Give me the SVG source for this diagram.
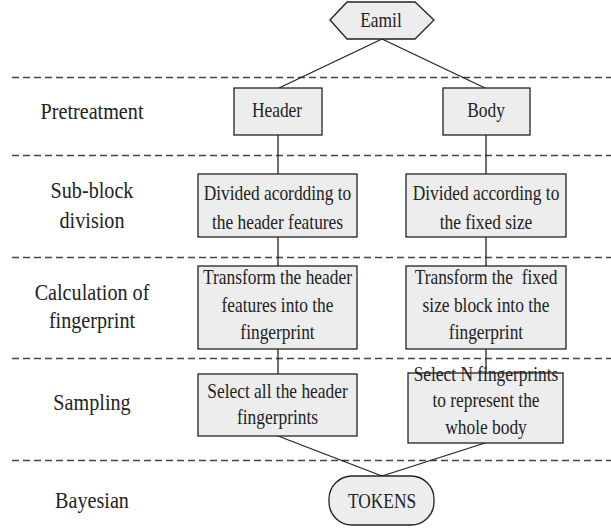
<svg xmlns="http://www.w3.org/2000/svg" width="611" height="529" viewBox="0 0 611 529">
<style>
text{font-family:'Liberation Serif','DejaVu Serif',serif;fill:#222;text-anchor:middle}
.lbl{font-size:24px}
.t{font-size:22px}
.box{fill:#ededed;stroke:#222;stroke-width:1.3}
.dash{stroke:#444;stroke-width:1.5;stroke-dasharray:7 4;fill:none}
.ln{stroke:#222;stroke-width:1.3;fill:none}
</style>
<rect width="611" height="529" fill="#fff"/>
<g id="lanes">
<line class="dash" x1="12" y1="77.5" x2="611" y2="77.5"/>
<line class="dash" x1="12" y1="155.5" x2="611" y2="155.5"/>
<line class="dash" x1="12" y1="257.5" x2="611" y2="257.5"/>
<line class="dash" x1="12" y1="358.5" x2="611" y2="358.5"/>
<line class="dash" x1="12" y1="460.5" x2="611" y2="460.5"/>
<text class="lbl" font-family="Liberation Serif" transform="translate(92 119) scale(0.84 1)">Pretreatment</text>
<text class="lbl" font-family="Liberation Serif" transform="translate(92 198) scale(0.84 1)">Sub-block</text>
<text class="lbl" font-family="Liberation Serif" transform="translate(92 228) scale(0.84 1)">division</text>
<text class="lbl" font-family="Liberation Serif" transform="translate(92 300) scale(0.84 1)">Calculation of</text>
<text class="lbl" font-family="Liberation Serif" transform="translate(92 328) scale(0.84 1)">fingerprint</text>
<text class="lbl" font-family="Liberation Serif" transform="translate(92 410) scale(0.84 1)">Sampling</text>
<text class="lbl" font-family="Liberation Serif" transform="translate(92 508) scale(0.84 1)">Bayesian</text>
</g>
<g id="connectors">
<line class="ln" x1="382" y1="39" x2="279" y2="88"/>
<line class="ln" x1="382" y1="39" x2="485" y2="88"/>
<line class="ln" x1="278" y1="135" x2="278" y2="174"/>
<line class="ln" x1="486" y1="135" x2="486" y2="174"/>
<line class="ln" x1="278" y1="237" x2="278" y2="266"/>
<line class="ln" x1="486" y1="237" x2="486" y2="266"/>
<line class="ln" x1="278" y1="349" x2="278" y2="374"/>
<line class="ln" x1="486" y1="349" x2="486" y2="373"/>
<line class="ln" x1="278" y1="436" x2="382" y2="476"/>
<line class="ln" x1="485" y1="443" x2="382" y2="476"/>
</g>
<g id="email">
<polygon class="box" points="330,20 347,2 415,2 434,20 415,39 347,39"/>
<text class="t" font-family="Liberation Serif" transform="translate(381 27) scale(0.79 1)">Eamil</text>
</g>
<g id="header">
<rect class="box" x="234" y="88" width="88" height="47"/>
<text class="t" font-family="Liberation Serif" transform="translate(277 117) scale(0.79 1)">Header</text>
</g>
<g id="body">
<rect class="box" x="443" y="88" width="87" height="47"/>
<text class="t" font-family="Liberation Serif" transform="translate(486 117) scale(0.79 1)">Body</text>
</g>
<g id="divide-header">
<rect class="box" x="198" y="174" width="159" height="63"/>
<text class="t" font-family="Liberation Serif" transform="translate(277.5 200) scale(0.79 1)">Divided acordding to</text>
<text class="t" font-family="Liberation Serif" transform="translate(277.5 229) scale(0.79 1)">the header features</text>
</g>
<g id="divide-body">
<rect class="box" x="406" y="174" width="160" height="63"/>
<text class="t" font-family="Liberation Serif" transform="translate(486 200) scale(0.79 1)">Divided according to</text>
<text class="t" font-family="Liberation Serif" transform="translate(486 229) scale(0.79 1)">the fixed size</text>
</g>
<g id="calc-header">
<rect class="box" x="198" y="266" width="159" height="83"/>
<text class="t" font-family="Liberation Serif" transform="translate(277.5 284) scale(0.79 1)">Transform the header</text>
<text class="t" font-family="Liberation Serif" transform="translate(277.5 312) scale(0.79 1)">features into the</text>
<text class="t" font-family="Liberation Serif" transform="translate(277.5 339) scale(0.79 1)">fingerprint</text>
</g>
<g id="calc-body">
<rect class="box" x="406" y="266" width="160" height="83"/>
<text class="t" font-family="Liberation Serif" transform="translate(486 284) scale(0.79 1)" xml:space="preserve">Transform the  fixed</text>
<text class="t" font-family="Liberation Serif" transform="translate(486 312) scale(0.79 1)">size block into the</text>
<text class="t" font-family="Liberation Serif" transform="translate(486 339) scale(0.79 1)">fingerprint</text>
</g>
<g id="sample-header">
<rect class="box" x="198" y="374" width="159" height="62"/>
<text class="t" font-family="Liberation Serif" transform="translate(277.5 398) scale(0.79 1)">Select all the header</text>
<text class="t" font-family="Liberation Serif" transform="translate(277.5 424) scale(0.79 1)">fingerprints</text>
</g>
<g id="sample-body">
<rect class="box" x="408" y="373" width="155" height="70"/>
<text class="t" font-family="Liberation Serif" transform="translate(486 381) scale(0.79 1)">Select N fingerprints</text>
<text class="t" font-family="Liberation Serif" transform="translate(486 407) scale(0.79 1)">to represent the</text>
<text class="t" font-family="Liberation Serif" transform="translate(486 434) scale(0.79 1)">whole body</text>
</g>
<g id="tokens">
<rect class="box" x="329" y="476" width="105" height="49" rx="23" ry="23"/>
<text class="t" font-family="Liberation Serif" transform="translate(382 508) scale(0.79 1)">TOKENS</text>
</g>
</svg>
